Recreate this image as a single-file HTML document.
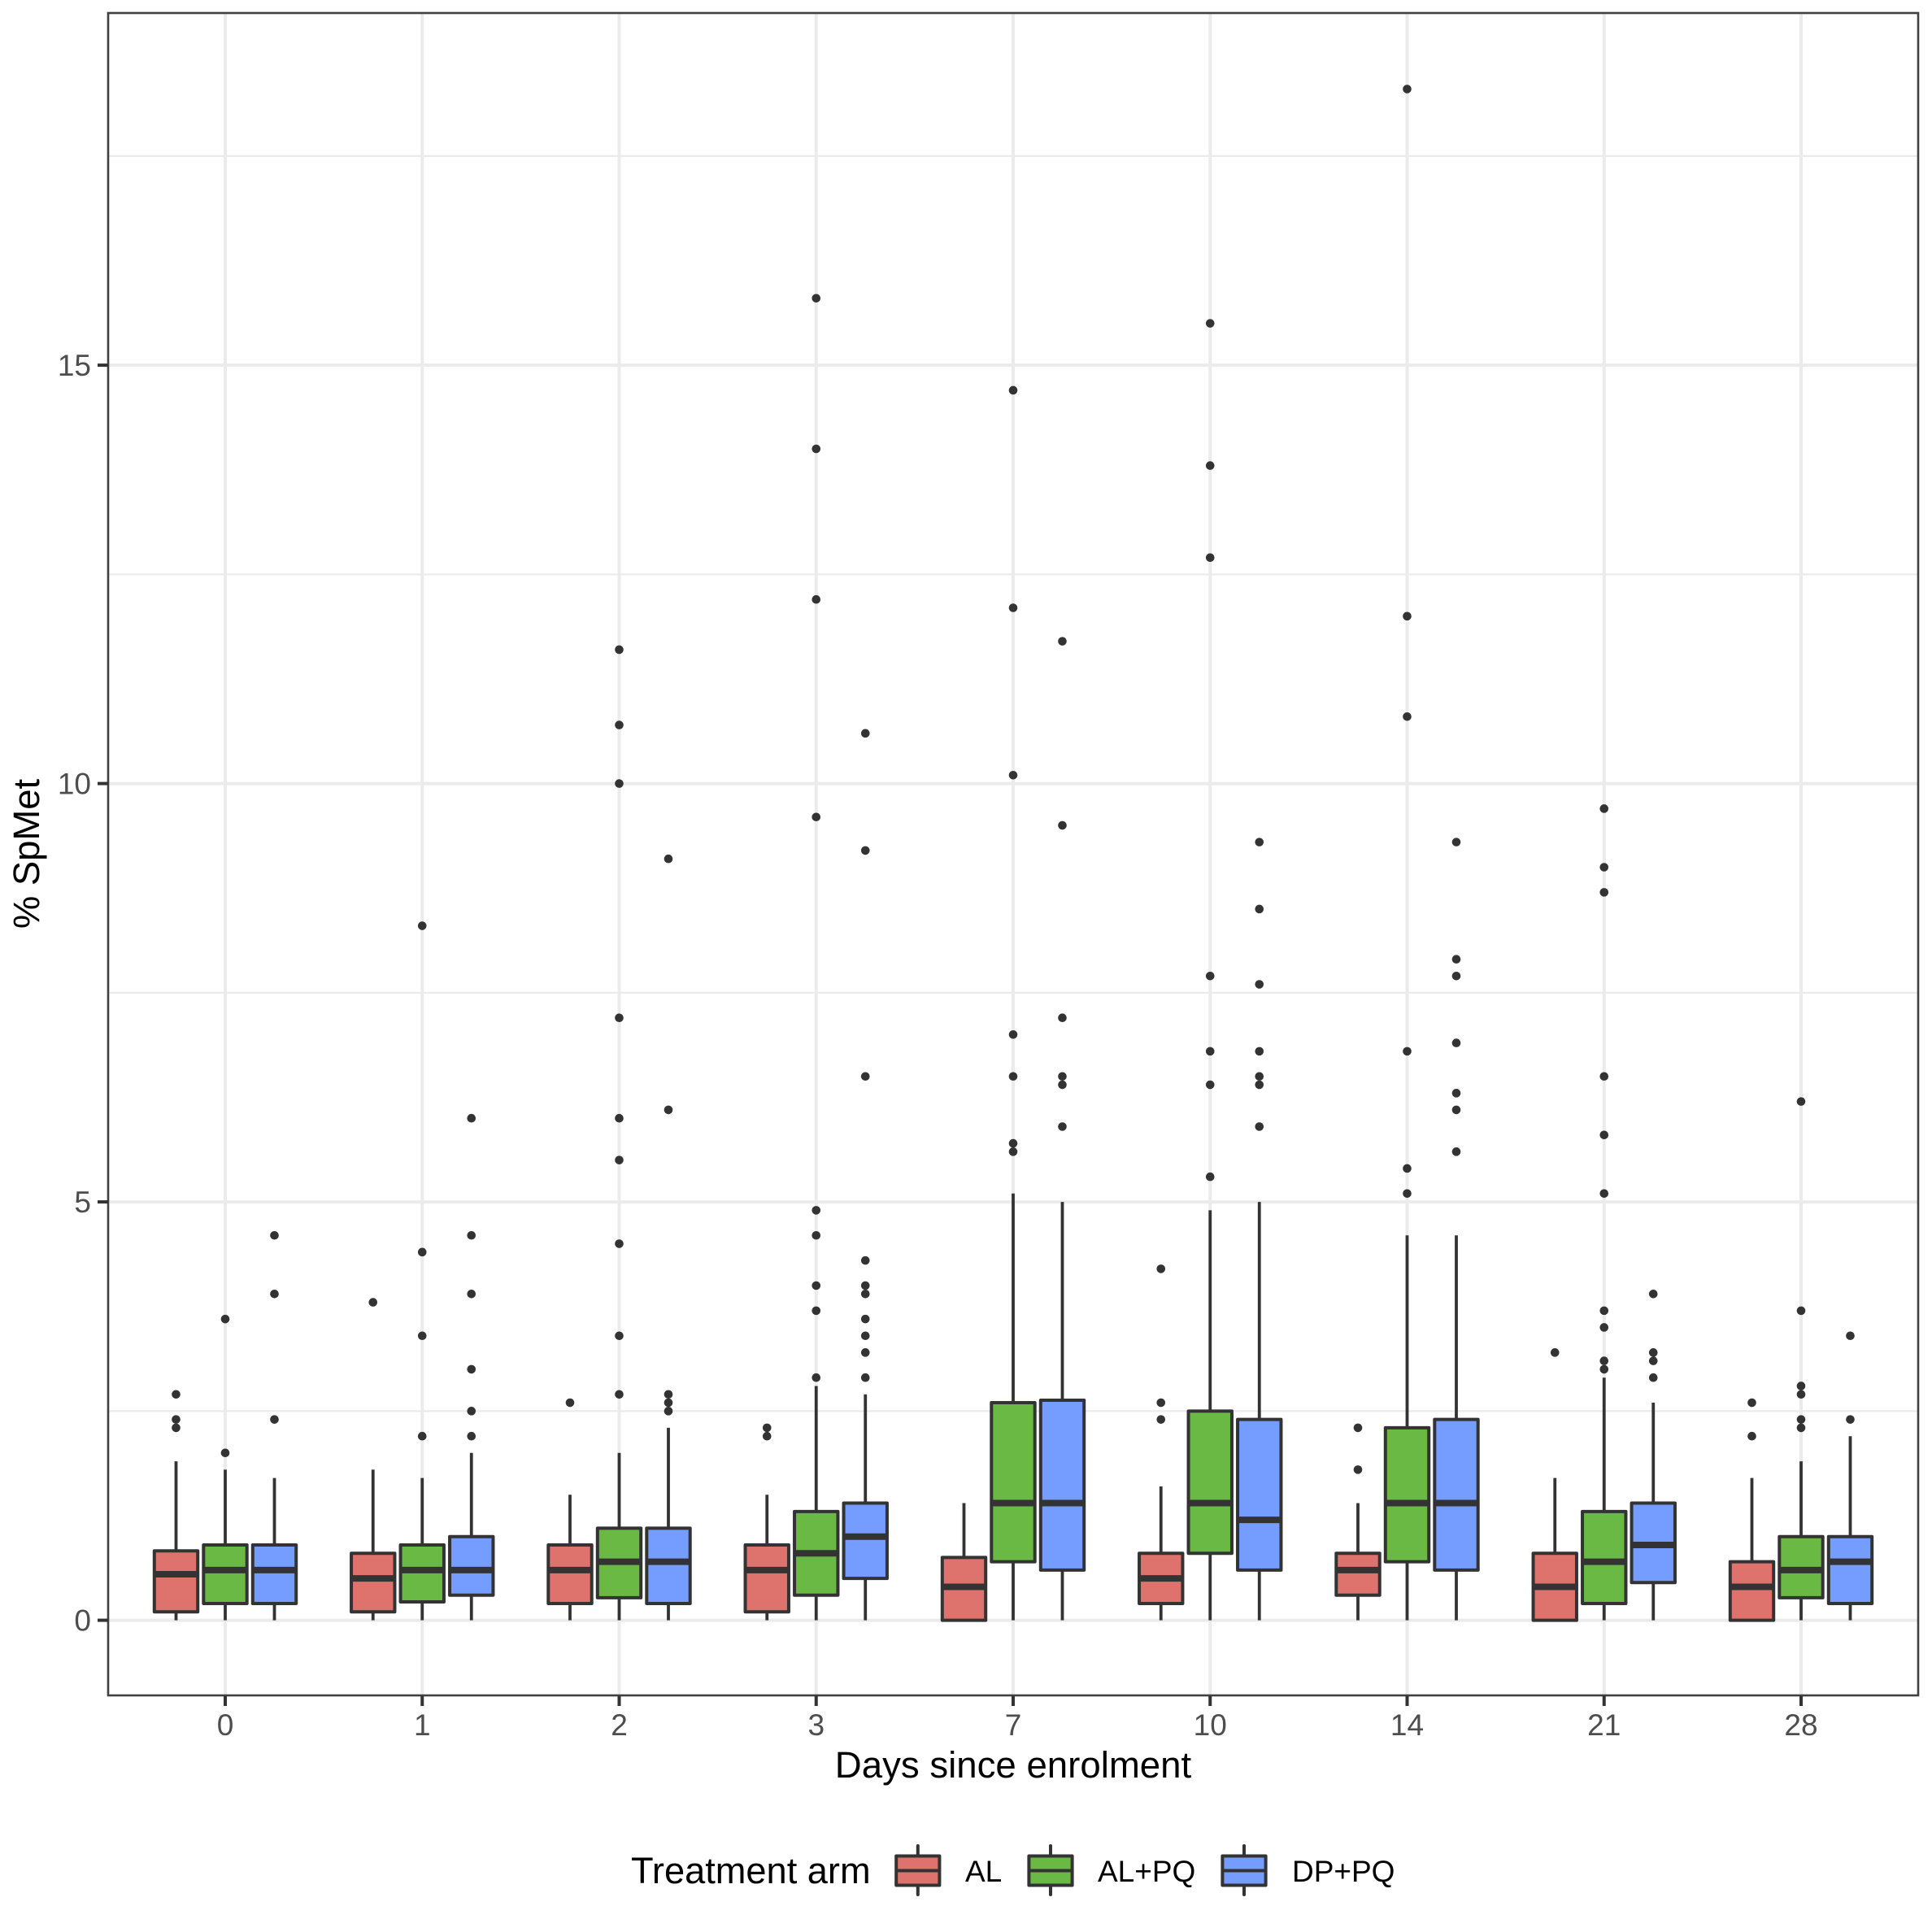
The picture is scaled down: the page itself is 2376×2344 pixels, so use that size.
<!DOCTYPE html>
<html>
<head>
<meta charset="utf-8">
<title>% SpMet by day and treatment arm</title>
<style>
html,body{margin:0;padding:0;background:#fff;}
svg{display:block;font-family:"Liberation Sans",Arial,sans-serif;}
</style>
</head>
<body>
<svg id="chart" xmlns="http://www.w3.org/2000/svg" width="2376" height="2344" viewBox="0 0 2376 2344">
<rect x="0" y="0" width="2376" height="2344" fill="#ffffff"/>
<g id="grid"></g>
<g id="marks"></g>
<rect x="133" y="16" width="2226" height="2069" fill="none" stroke="#404040" stroke-width="2.6"/>
<g id="axes"></g>
<text x="1246" y="2186" font-size="45.6" text-anchor="middle" fill="#000">Days since enrolment</text>
<text transform="translate(48,1050) rotate(-90)" font-size="45.4" text-anchor="middle" fill="#000">% SpMet</text>
<g id="legend">
<text x="776" y="2316" font-size="45.2" fill="#000">Treatment arm</text>
</g>
</svg>
<script>
const categories = ['0','1','2','3','7','10','14','21','28'];
const seriesNames = ['AL','AL+PQ','DP+PQ'];
const seriesColors = ['#de736d','#69b944','#759cff'];
const yTicks = [0,5,10,15];
const yMinorTicks = [2.5,7.5,12.5,17.5];

const q1AL = [0.1,0.1,0.2,0.1,0,0.2,0.3,0,0];
const medianAL = [0.55,0.5,0.6,0.6,0.4,0.5,0.6,0.4,0.4];
const q3AL = [0.83,0.8,0.9,0.9,0.75,0.8,0.8,0.8,0.7];
const whiskerAL = [1.9,1.8,1.5,1.5,1.4,1.6,1.4,1.7,1.7];
const outliersAL = [
  [2.3,2.4,2.7],
  [3.8],
  [2.6],
  [2.2,2.3],
  [],
  [2.4,2.6,4.2],
  [1.8,2.3],
  [3.2],
  [2.2,2.6]
];

const q1ALPQ = [0.2,0.22,0.27,0.3,0.7,0.8,0.7,0.2,0.27];
const medianALPQ = [0.6,0.6,0.7,0.8,1.4,1.4,1.4,0.7,0.6];
const q3ALPQ = [0.9,0.9,1.1,1.3,2.6,2.5,2.3,1.3,1.0];
const whiskerALPQ = [1.8,1.7,2.0,2.8,5.1,4.9,4.6,2.9,1.9];
const outliersALPQ = [
  [2.0,3.6],
  [2.2,3.4,4.4,8.3],
  [2.7,3.4,4.5,5.5,6.0,7.2,10.0,10.7,11.6],
  [2.9,3.7,4.0,4.6,4.9,9.6,12.2,14.0,15.8],
  [5.6,5.7,6.5,7.0,10.1,12.1,14.7],
  [5.3,6.4,6.8,7.7,12.7,13.8,15.5],
  [5.1,5.4,6.8,10.8,12.0,18.3],
  [3.0,3.1,3.5,3.7,5.1,5.8,6.5,8.7,9.0,9.7],
  [2.3,2.4,2.7,2.8,3.7,6.2]
];

const q1DPPQ = [0.2,0.3,0.2,0.5,0.6,0.6,0.6,0.45,0.2];
const medianDPPQ = [0.6,0.6,0.7,1.0,1.4,1.2,1.4,0.9,0.7];
const q3DPPQ = [0.9,1.0,1.1,1.4,2.63,2.4,2.4,1.4,1.0];
const whiskerDPPQ = [1.7,2.0,2.3,2.7,5.0,5.0,4.6,2.6,2.2];
const outliersDPPQ = [
  [2.4,3.9,4.6],
  [2.2,2.5,3.0,3.9,4.6,6.0],
  [2.5,2.6,2.7,6.1,9.1],
  [2.9,3.2,3.4,3.6,3.9,4.0,4.3,6.5,9.2,10.6],
  [5.9,6.4,6.5,7.2,9.5,11.7],
  [5.9,6.4,6.5,6.8,7.6,8.5,9.3],
  [5.6,6.1,6.3,6.9,7.7,7.9,9.3],
  [2.9,3.1,3.2,3.9],
  [2.4,3.4]
];

const q1Series = [q1AL,q1ALPQ,q1DPPQ];
const medianSeries = [medianAL,medianALPQ,medianDPPQ];
const q3Series = [q3AL,q3ALPQ,q3DPPQ];
const whiskerSeries = [whiskerAL,whiskerALPQ,whiskerDPPQ];
const outlierSeries = [outliersAL,outliersALPQ,outliersDPPQ];

const SVGNS = 'http://www.w3.org/2000/svg';
const INK = '#333333';
const PANEL = {left:133,right:2359,top:16,bottom:2085};
function xScale(i){ return 277 + i*242.25; }
function dodge(s){ return (s-1)*60.5; }
function yScale(v){ return 1992.6 - v*102.9; }

function make(parent,tag){
  const el = document.createElementNS(SVGNS,tag);
  parent.appendChild(el);
  return el;
}
function setLine(el,x1,y1,x2,y2,color,width){
  el.setAttribute('x1',x1);
  el.setAttribute('y1',y1);
  el.setAttribute('x2',x2);
  el.setAttribute('y2',y2);
  el.setAttribute('stroke',color);
  el.setAttribute('stroke-width',width);
}
function setRect(el,x,y,w,h,fill){
  el.setAttribute('x',x);
  el.setAttribute('y',y);
  el.setAttribute('width',w);
  el.setAttribute('height',h);
  el.setAttribute('fill',fill);
  el.setAttribute('stroke',INK);
  el.setAttribute('stroke-width',4);
  el.setAttribute('stroke-linejoin','round');
}
function setText(el,x,y,size,anchor,color,str){
  el.setAttribute('x',x);
  el.setAttribute('y',y);
  el.setAttribute('font-size',size);
  el.setAttribute('text-anchor',anchor);
  el.setAttribute('fill',color);
  el.textContent = str;
}

const grid = document.getElementById('grid');
const marks = document.getElementById('marks');
const axes = document.getElementById('axes');
const legend = document.getElementById('legend');

yMinorTicks.forEach(function(v){
  const g = make(grid,'line');
  
  
  setLine(g,PANEL.left,yScale(v),PANEL.right,yScale(v),'#ebebeb',2.2);
});
yTicks.forEach(function(v){
  const g = make(grid,'line');
  
  
  setLine(g,PANEL.left,yScale(v),PANEL.right,yScale(v),'#ebebeb',4);

  const t = make(axes,'line');
  
  
  setLine(t,120,yScale(v),PANEL.left,yScale(v),INK,4);

  const l = make(axes,'text');
  
  
  setText(l,112,yScale(v)+13,37,'end','#4d4d4d',String(v));
});
categories.forEach(function(c,i){
  const g = make(grid,'line');
  
  
  setLine(g,xScale(i),PANEL.top,xScale(i),PANEL.bottom,'#ebebeb',4);

  const t = make(axes,'line');
  
  
  setLine(t,xScale(i),PANEL.bottom+1,xScale(i),PANEL.bottom+13,INK,4);

  const l = make(axes,'text');
  
  
  setText(l,xScale(i),2134,37,'middle','#4d4d4d',c);
});

const BOX_W = 53.4;
seriesNames.forEach(function(name,s){
  categories.forEach(function(c,i){
    const cx = xScale(i)+dodge(s);
    const q1 = q1Series[s][i], med = medianSeries[s][i], q3 = q3Series[s][i], hi = whiskerSeries[s][i];

    const upper = make(marks,'line');
    
    
    setLine(upper,cx,yScale(hi),cx,yScale(q3),INK,3.8);

    const lower = make(marks,'line');
    
    
    setLine(lower,cx,yScale(q1),cx,yScale(0),INK,3.8);

    const box = make(marks,'rect');
    
    
    setRect(box,cx-BOX_W/2,yScale(q3),BOX_W,yScale(q1)-yScale(q3),seriesColors[s]);

    const m = make(marks,'line');
    
    
    setLine(m,cx-BOX_W/2,yScale(med),cx+BOX_W/2,yScale(med),INK,8);

    outlierSeries[s][i].forEach(function(v){
      const p = make(marks,'circle');
      
      
      p.setAttribute('cx',cx);
      p.setAttribute('cy',yScale(v));
      p.setAttribute('r',5.3);
      p.setAttribute('fill',INK);
    });
  });
});

const legendCentres = [1128.8,1292,1530];
const legendTextX = [1187,1350,1589];
seriesNames.forEach(function(name,s){
  const cx = legendCentres[s];
  const w = make(legend,'line');
  
  
  setLine(w,cx,2270,cx,2330,INK,4);
  w.setAttribute('stroke-linecap','round');

  const b = make(legend,'rect');
  
  
  setRect(b,cx-26.6,2282.5,53.2,36,seriesColors[s]);

  const m = make(legend,'line');
  
  
  setLine(m,cx-26.6,2300.5,cx+26.6,2300.5,INK,4);

  const t = make(legend,'text');
  
  
  setText(t,legendTextX[s],2314,37,'start','#000',name);
});
</script>
</body>
</html>
